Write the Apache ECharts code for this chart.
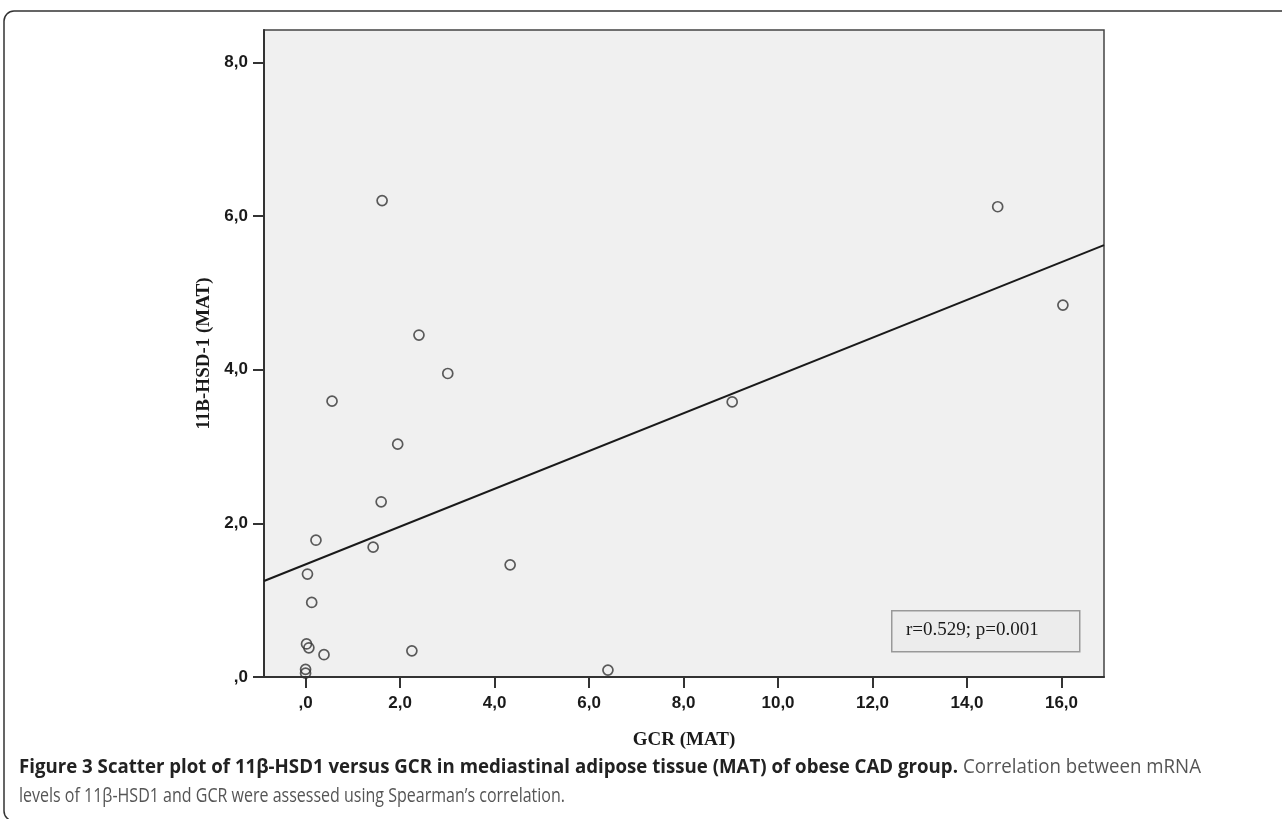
<!DOCTYPE html>
<html>
<head>
<meta charset="utf-8">
<script src="https://cdn.jsdelivr.net/npm/echarts@6/dist/echarts.min.js"></script>
<style>
  html, body { margin: 0; padding: 0; background: #ffffff; }
  #chart { width: 1282px; height: 819px; }
</style>
</head>
<body>
<div id="chart"></div>
<script>
// ---- data ----
var gcrValues = [3.01, 0.56, 1.95, 1.60, 0.22, 1.43, 4.33, 0.04, 0.13, 0.02, 0.07, 0.39, 2.25, 0.00, 0.00, 6.40, 1.62, 2.40, 14.65, 16.03, 9.03];
var hsdValues = [3.95, 3.59, 3.03, 2.28, 1.78, 1.69, 1.46, 1.34, 0.97, 0.43, 0.38, 0.29, 0.34, 0.10, 0.05, 0.09, 6.20, 4.45, 6.12, 4.84, 3.58];
var fitLineX = [-0.88, 16.9];
var fitLineY = [1.25, 5.62];
var xTickValues = [0, 2, 4, 6, 8, 10, 12, 14, 16];
var yTickValues = [0, 2, 4, 6, 8];
var xAxisName = 'GCR (MAT)';
var yAxisName = '11B-HSD-1 (MAT)';
var statText = 'r=0.529; p=0.001';
var captionBold = 'Figure 3 Scatter plot of 11\u03B2-HSD1 versus GCR in mediastinal adipose tissue (MAT) of obese CAD group.';
var captionRest1 = 'Correlation between mRNA';
var captionLine2 = 'levels of 11\u03B2-HSD1 and GCR were assessed using Spearman\u2019s correlation.';

function fmt(v) {
  var s = v.toFixed(1).replace('.', ',');
  if (s.indexOf('0,') === 0) s = s.substring(1);
  return s;
}

var points = gcrValues.map(function (x, i) { return [x, hsdValues[i]]; });
var linePts = fitLineX.map(function (x, i) { return [x, fitLineY[i]]; });

// condensed caption: measure the texts and squeeze them to the reference widths
var capFont = '"Open Sans"';
var capSize = 20;
var ctx = document.createElement('canvas').getContext('2d');
ctx.font = 'bold ' + capSize + 'px ' + capFont;
var boldScale = 939 / ctx.measureText(captionBold).width;
ctx.font = capSize + 'px ' + capFont;
var regScale = 546 / ctx.measureText(captionLine2).width;
var restScale = 238 / ctx.measureText(captionRest1).width;

var chart = echarts.init(document.getElementById('chart'), null, { renderer: 'canvas' });
var labelFont = { fontFamily: 'Liberation Sans', fontWeight: 'bold', fontSize: 17, color: '#1a1a1a' };
var boldStyle = { font: 'bold ' + capSize + 'px ' + capFont, fill: '#222' };
var regStyle = { font: capSize + 'px ' + capFont, fill: '#555' };

chart.setOption({
  animation: false,
  backgroundColor: '#ffffff',
  grid: {
    left: 264, right: 178, top: 30, bottom: 142,
    show: true, backgroundColor: '#f0f0f0', borderColor: '#444', borderWidth: 1.5
  },
  xAxis: {
    type: 'value', min: -0.88, max: 16.9,
    name: xAxisName, nameLocation: 'middle', nameGap: 54,
    nameTextStyle: { fontFamily: 'Liberation Serif', fontWeight: 'bold', fontSize: 19, color: '#1a1a1a' },
    axisLine: { show: true, onZero: false, lineStyle: { color: '#333', width: 2 } },
    axisTick: { show: true, length: 11, customValues: xTickValues, lineStyle: { color: '#333', width: 2 } },
    axisLabel: Object.assign({ customValues: xTickValues, margin: 18, formatter: fmt }, labelFont),
    splitLine: { show: false }
  },
  yAxis: {
    type: 'value', min: 0, max: 8.42,
    name: yAxisName, nameLocation: 'middle', nameGap: 48,
    nameTextStyle: { fontFamily: 'Liberation Serif', fontWeight: 'bold', fontSize: 19, color: '#1a1a1a' },
    axisLine: { show: true, onZero: false, lineStyle: { color: '#333', width: 2 } },
    axisTick: { show: true, length: 11, customValues: yTickValues, lineStyle: { color: '#333', width: 2 } },
    axisLabel: Object.assign({ customValues: yTickValues, margin: 16, formatter: fmt }, labelFont),
    splitLine: { show: false }
  },
  series: [
    {
      type: 'line', data: linePts, symbol: 'none', silent: true,
      lineStyle: { color: '#1a1a1a', width: 2 }, z: 2
    },
    {
      type: 'scatter', data: points, symbol: 'circle', symbolSize: 10,
      itemStyle: { color: 'rgba(0,0,0,0)', borderColor: '#333', borderWidth: 1.7 }, z: 3
    }
  ],
  graphic: [
    {
      type: 'rect', x: 4, y: 11, z: -10,
      shape: { width: 1300, height: 810, r: 10 },
      style: { fill: 'none', stroke: '#333', lineWidth: 1.5 }
    },
    {
      type: 'rect', left: 891, top: 610, z: 50,
      shape: { width: 188, height: 41 },
      style: { fill: '#ececec', stroke: '#999', lineWidth: 1.5 }
    },
    {
      type: 'text', left: 906, top: 621, z: 51,
      style: { text: statText, font: '19px "Liberation Serif"', fill: '#1a1a1a' }
    },
    {
      type: 'text', x: 19, y: 757, scaleX: boldScale, z: 51,
      style: Object.assign({ text: captionBold }, boldStyle)
    },
    {
      type: 'text', x: 963, y: 757, scaleX: restScale, z: 51,
      style: Object.assign({ text: captionRest1 }, regStyle)
    },
    {
      type: 'text', x: 19, y: 786, scaleX: regScale, z: 51,
      style: Object.assign({ text: captionLine2 }, regStyle)
    }
  ]
});
</script>
</body>
</html>
